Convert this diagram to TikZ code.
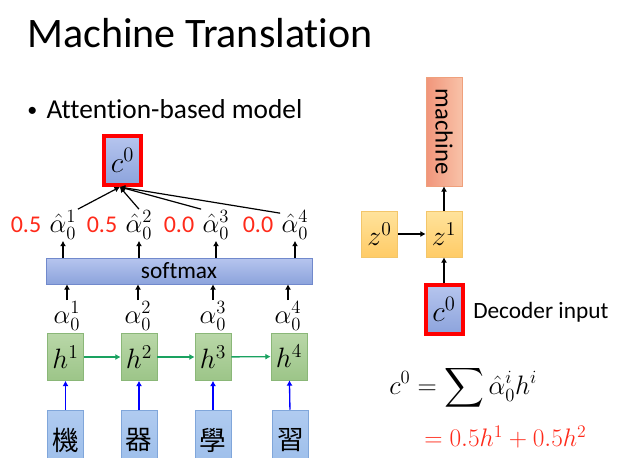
\RequirePackage{fix-cm}
\documentclass[tikz,border=0pt]{standalone}
\usepackage{amsmath}
\usepackage{fontspec}
\setmainfont{Carlito}[Ligatures=NoCommon]
\newfontfamily\cjk{Noto Sans CJK TC}
\usetikzlibrary{arrows.meta,
                positioning
            }
\definecolor{bluetop}{HTML}{B6C5EE}
\definecolor{bluebot}{HTML}{8CA3DC}
\definecolor{blueline}{HTML}{7189CC}
\definecolor{greentop}{HTML}{B9D7A8}
\definecolor{greenbot}{HTML}{9CC588}
\definecolor{greenline}{HTML}{8AB778}
\definecolor{chartop}{HTML}{B0CBF0}
\definecolor{charbot}{HTML}{9BBDEA}
\definecolor{charline}{HTML}{80A6DA}
\definecolor{machleft}{HTML}{F1957A}
\definecolor{machright}{HTML}{F8C2A8}
\definecolor{machline}{HTML}{EFA07C}
\definecolor{ztop}{HTML}{FFE39C}
\definecolor{zbot}{HTML}{FFCB66}
\definecolor{zline}{HTML}{F3C66A}
\definecolor{arrgreen}{HTML}{1AA260}
\definecolor{weight}{HTML}{FF2A1A}

\begin{document}
\begin{tikzpicture}[x=0.75pt, y=-0.75pt, >={Latex[length=4pt,width=4.5pt]},
    bluebox/.style={draw=blueline, top color=bluetop, bottom color=bluebot},
    ctx/.style={bluebox, draw=red, line width=3pt, minimum width=27.75pt, minimum height=36.75pt, font=\fontsize{22}{26}\selectfont},
    hbox/.style={draw=greenline, top color=greentop, bottom color=greenbot, minimum width=27pt, minimum height=35.25pt, font=\fontsize{21}{25}\selectfont},
    wordbox/.style={draw=charline, top color=chartop, bottom color=charbot, minimum width=27pt, minimum height=45pt, font=\cjk\fontsize{20}{24}\selectfont},
    zbox/.style={draw=zline, top color=ztop, bottom color=zbot, minimum width=27pt, minimum height=34.5pt, font=\fontsize{21}{25}\selectfont},
    score/.style={font=\fontsize{20}{24}\selectfont, inner sep=1pt},
    num/.style={font=\fontsize{18}{21}\selectfont, text=weight, inner sep=1pt},
    arr/.style={->, line width=1pt}
]
\path[use as bounding box, clip] (0,0) rectangle (627,457);

% title and bullet
\node[anchor=base west, inner sep=0pt, font=\fontsize{31.5}{38}\selectfont] (title) at (27,47) {Machine Translation};
\node[anchor=base west, inner sep=0pt, font=\fontsize{20.5}{24}\selectfont] (bullet) at (27,118) {{\fontsize{15}{15}\selectfont\raisebox{1.5pt}{\textbullet}}\hspace{7pt}Attention-based model};

% encoder
\node[wordbox] (w1) at (65.5,440) {機};
\node[wordbox] (w2) at (139,440) {器};
\node[wordbox] (w3) at (213,440) {學};
\node[wordbox] (w4) at (290.5,440) {習};

\node[hbox] (h1) at (65.5,357) {$h^1$};
\node[hbox] (h2) at (139,357) {$h^2$};
\node[hbox] (h3) at (213,357) {$h^3$};
\node[hbox] (h4) at (289,356.5) {$h^4$};

\draw[arr, blue] (w1) -- (h1);
\draw[arr, blue] (w2) -- (h2);
\draw[arr, blue] (w3) -- (h3);
\draw[arr, blue] (w4) -- (h4);
\draw[arr, arrgreen] (h1) -- (h2);
\draw[arr, arrgreen] (h2) -- (h3);
\draw[arr, arrgreen] (h3) -- (h4);

\node[score] (a1) at (67,316) {$\alpha_0^1$};
\node[score] (a2) at (138,316) {$\alpha_0^2$};
\node[score] (a3) at (213,316) {$\alpha_0^3$};
\node[score] (a4) at (288,316) {$\alpha_0^4$};

% softmax
\node[bluebox, minimum width=199.5pt, minimum height=19.5pt, font=\fontsize{17.5}{20}\selectfont] (soft) at (179,271) {softmax};

\draw[arr, line width=0.8pt] (a1.north |- 0,300) -- (a1.north |- soft.south);
\draw[arr, line width=0.8pt] (a2.north |- 0,300) -- (a2.north |- soft.south);
\draw[arr, line width=0.8pt] (a3.north |- 0,300) -- (a3.north |- soft.south);
\draw[arr, line width=0.8pt] (a4.north |- 0,300) -- (a4.north |- soft.south);

\node[score] (ah1) at (63,225) {$\hat{\alpha}_0^1$};
\node[score] (ah2) at (139,225) {$\hat{\alpha}_0^2$};
\node[score] (ah3) at (216,225) {$\hat{\alpha}_0^3$};
\node[score] (ah4) at (295,225) {$\hat{\alpha}_0^4$};
\node[num, left=4pt of ah1] (n1) {0.5};
\node[num, left=4pt of ah2] (n2) {0.5};
\node[num, left=4pt of ah3] (n3) {0.0};
\node[num, left=4pt of ah4] (n4) {0.0};

\draw[arr, line width=0.8pt] (soft.north -| ah1) -- (ah1.south);
\draw[arr, line width=0.8pt] (soft.north -| ah2) -- (ah2.south);
\draw[arr, line width=0.8pt] (soft.north -| ah3) -- (ah3.south);
\draw[arr, line width=0.8pt] (soft.north -| ah4) -- (ah4.south);

% context vector
\node[ctx] (c0) at (122.5,160.5) {$c^0$};
\draw[->, line width=0.9pt] (ah1.north east) -- ([xshift=-2pt]c0.south);
\draw[->, line width=0.9pt] (ah2.north) -- ([xshift=-2pt]c0.south);
\draw[->, line width=0.9pt] (ah3.north west) -- ([xshift=-2pt]c0.south);
\draw[->, line width=0.9pt] ([yshift=-3pt]ah4.north west) -- ([xshift=-2pt]c0.south);

% decoder
\node[ctx] (c0d) at (444,309.5) {$c^0$};
\node[anchor=west, inner sep=0pt, font=\fontsize{17.5}{21}\selectfont] (dec) at (473,312) {Decoder input};
\node[zbox] (z1) at (444,234) {$z^1$};
\node[zbox] (z0) at (379.5,234) {$z^0$};
\node[draw=machline, left color=machleft, right color=machright, minimum width=27pt, minimum height=81.75pt] (mach) at (444,131.5) {};
\node[rotate=-90, font=\fontsize{18.5}{22}\selectfont] (machtxt) at (mach.center) {machine};
\draw[arr, line width=1.3pt] (c0d) -- (z1);
\draw[arr, line width=1.3pt] (z0) -- (z1);
\draw[arr, line width=1.3pt] (z1) -- (mach);

% equation
\node[anchor=west, inner sep=0pt, font=\fontsize{20}{24}\selectfont] (eq) at (389,388) {$\displaystyle c^0=\sum\hat{\alpha}_0^i h^i$};
\node[anchor=west, inner sep=0pt, font=\fontsize{19}{23}\selectfont, text=weight] (eq2) at (424,437) {$=0.5h^1+0.5h^2$};
\end{tikzpicture}
\end{document}
